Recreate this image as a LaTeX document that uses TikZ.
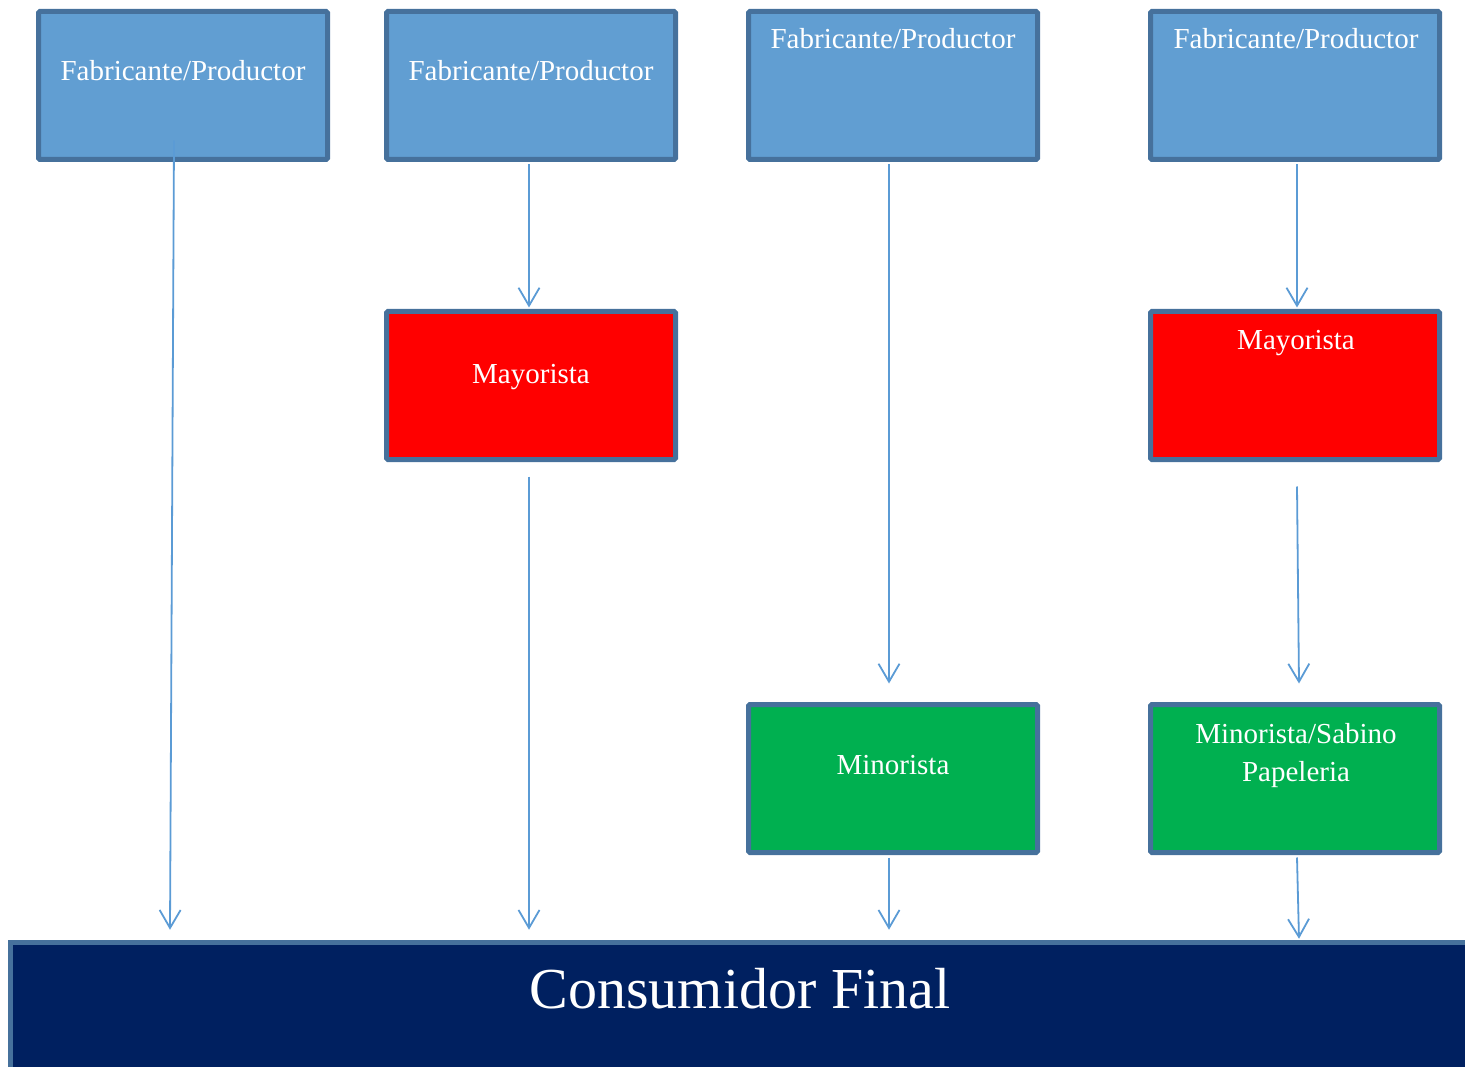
\documentclass[tikz,border=0pt]{standalone}
\usepackage{fontspec}
\setmainfont{Liberation Serif}
\usetikzlibrary{arrows.meta,calc}
\definecolor{fabfill}{HTML}{619ED2}
\definecolor{boxline}{HTML}{46719C}
\definecolor{mayfill}{HTML}{FF0000}
\definecolor{minfill}{HTML}{00B050}
\definecolor{consfill}{HTML}{002060}
\definecolor{arrcol}{HTML}{5B9BD5}
\begin{document}
\begin{tikzpicture}[x=1pt,y=-1pt,
  box/.style={rectangle,draw=boxline,line width=5pt,rounded corners=1.5pt,minimum width=289pt,minimum height=148pt,inner sep=0pt},
  fab/.style={box,fill=fabfill},
  may/.style={box,fill=mayfill},
  mino/.style={box,fill=minfill},
  txt/.style={text=white,font=\fontsize{29}{38}\selectfont,anchor=base,inner sep=0pt,align=center},
  arr/.style={draw=arrcol,line width=1.8pt,-{Straight Barb[length=18pt,width=21pt]}}]
\useasboundingbox (0,0) rectangle (1465,1067);
\clip (0,0) rectangle (1465,1067);
% boxes
\node[fab] (f1) at (183,85.5) {};
\node[fab] (f2) at (531,85.5) {};
\node[fab] (f3) at (893,85.5) {};
\node[fab] (f4) at (1295,85.5) {};
\node[may] (m2) at (531,385.5) {};
\node[may] (m4) at (1295,385.5) {};
\node[mino] (n3) at (893,778.5) {};
\node[mino] (n4) at (1295,778.5) {};
\node[rectangle,draw=boxline,line width=4.5pt,fill=consfill,minimum width=1459pt,minimum height=160pt,inner sep=0pt] (cons) at (740,1022.5) {};
% texts
\node[txt] (tf1) at (183,81) {Fabricante/Productor};
\node[txt] (tf2) at (531,81) {Fabricante/Productor};
\node[txt] (tf3) at (893,49) {Fabricante/Productor};
\node[txt] (tf4) at (1296,49) {Fabricante/Productor};
\node[txt] (tm2) at (531,383) {Mayorista};
\node[txt] (tm4) at (1296,350) {Mayorista};
\node[txt] (tn3) at (893,774) {Minorista};
\node[txt] (tn4) at (1296,781) {Minorista/Sabino\\Papeleria};
\node[txt,font=\fontsize{58}{70}\selectfont] (tc) at (740,1008) {Consumidor Final};
% arrows
\draw[arr] ($(f1.south)+(-9,-21.5)$) -- ($(f1.south |- cons.north)+(-13,-10.5)$);
\draw[arr] ($(f2.south)+(-2,2.5)$) -- ($(m2.north)+(-2,-1.5)$);
\draw[arr] ($(m2.south)+(-2,14.5)$) -- ($(m2.south |- cons.north)+(-2,-10.5)$);
\draw[arr] ($(f3.south)+(-4,2.5)$) -- ($(n3.north)+(-4,-18.5)$);
\draw[arr] ($(n3.south)+(-4,2.5)$) -- ($(n3.south |- cons.north)+(-4,-10.5)$);
\draw[arr] ($(f4.south)+(2,2.5)$) -- ($(m4.north)+(2,-1.5)$);
\draw[arr] ($(m4.south)+(2,24.5)$) -- ($(n4.north)+(4,-18.5)$);
\draw[arr] ($(n4.south)+(2,2.5)$) -- ($(n4.south |- cons.north)+(4,-1.5)$);
\end{tikzpicture}
\end{document}
